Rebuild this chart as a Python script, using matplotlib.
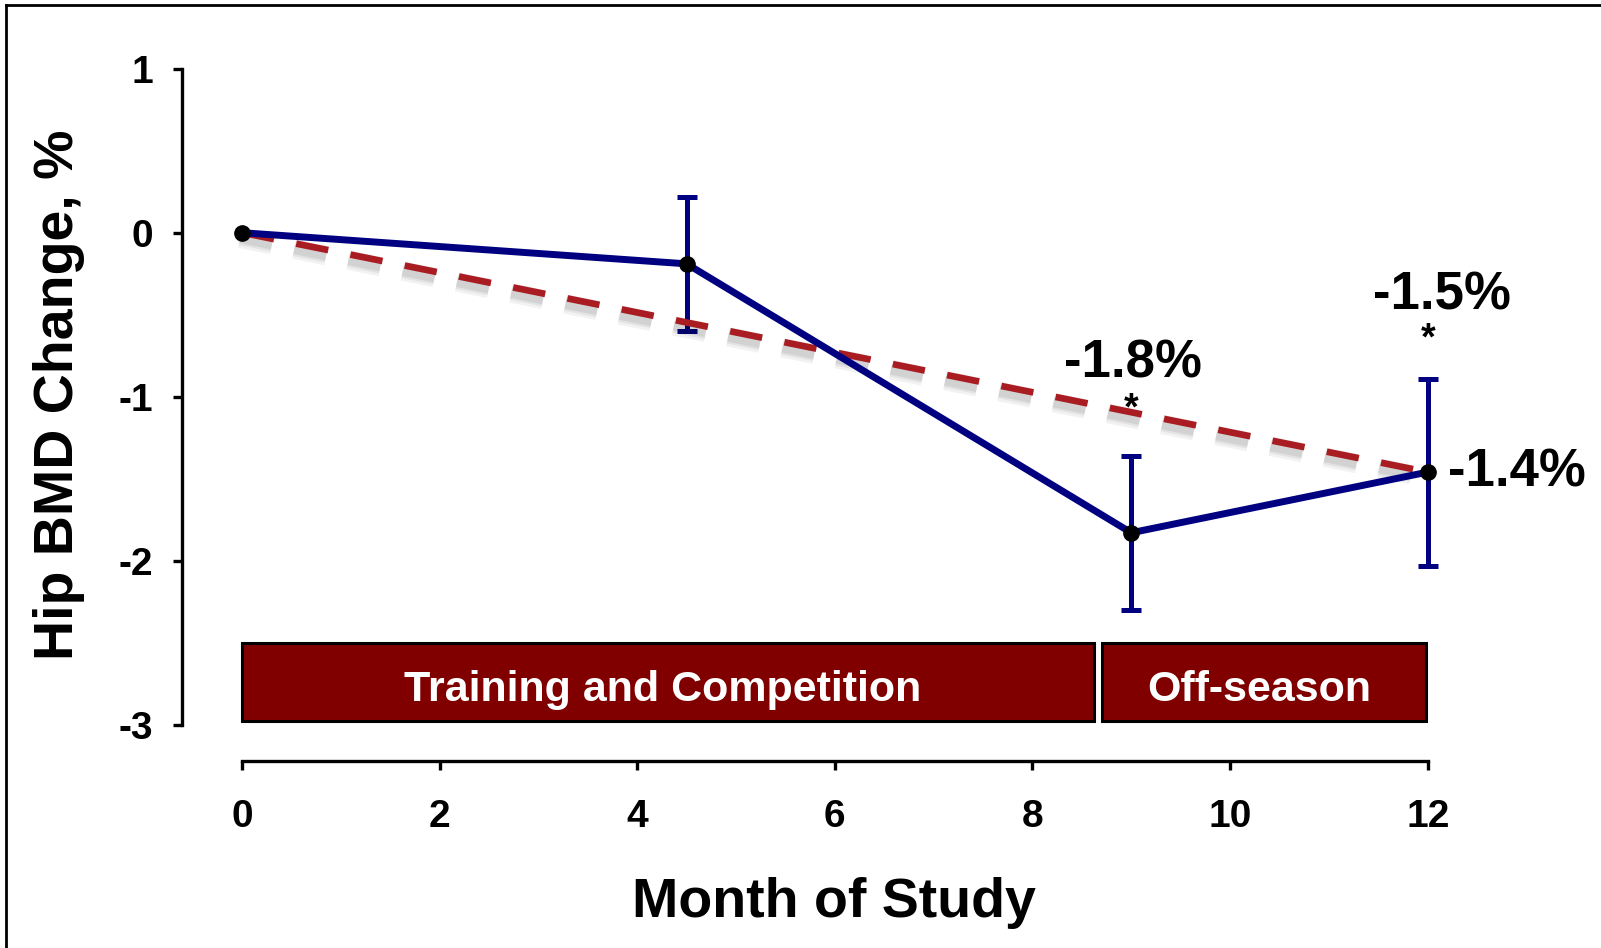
import matplotlib
matplotlib.use("Agg")
import matplotlib.pyplot as plt
import matplotlib.patheffects as pe
from matplotlib.lines import Line2D
from matplotlib.patches import Rectangle

plt.rcParams["font.family"] = ["Liberation Sans", "DejaVu Sans"]
plt.rcParams["font.weight"] = "bold"

# hip BMD change over the study year
months = [0, 4.5, 9, 12]
bmd_change = [0.0, -0.19, -1.83, -1.46]
bmd_err = [0.0, 0.41, 0.47, 0.57]

# straight reference line from baseline to month 12
trend_months = [0, 12]
trend_change = [0.0, -1.46]

# season periods: (label, start month, end month)
periods = [("Training and Competition", 0.0, 8.62),
           ("Off-season", 8.70, 11.98)]

xticks = [0, 2, 4, 6, 8, 10, 12]
yticks = [1, 0, -1, -2, -3]

navy = "#000080"
red = "#A81C22"
maroon = "#800000"

fig = plt.figure(figsize=(16.01, 9.48), dpi=100)
ax = fig.add_axes([0.1135, 0.1976, 0.8400, 0.7645])
ax.set_xlim(-0.61, 13.0)
ax.set_ylim(-3.22, 1.2)

# error bars sit underneath everything else
ax.errorbar(months[1:], bmd_change[1:], yerr=bmd_err[1:], fmt="none",
            ecolor=navy, elinewidth=3.6, capsize=7, capthick=3.6, zorder=2)

# dashed trend with a soft drop shadow
shadow = [pe.SimpleLineShadow(offset=(-1.5, -4), shadow_color="k", alpha=a, linewidth=w)
          for w, a in ((14, 0.05), (10, 0.06), (7, 0.07))]
ax.plot(trend_months, trend_change, color=red, lw=4.8, dashes=(4.9, 3.4),
        dash_capstyle="butt", path_effects=shadow + [pe.Normal()], zorder=3)

ax.plot(months, bmd_change, color=navy, lw=5, zorder=4)
ax.plot(months, bmd_change, "o", color="black", ms=11, zorder=5)

# period boxes
for label, x0, x1 in periods:
    ax.add_patch(Rectangle((x0, -2.975), x1 - x0, 0.475, facecolor=maroon,
                           edgecolor="black", lw=2.2, zorder=2))
    ax.text((x0 + x1) / 2 - 0.05, -2.79, label, color="white", fontsize=31,
            fontweight="bold", ha="center", va="center", zorder=3)

# value labels and significance stars
ax.text(9.02, -0.80, "-1.8%", fontsize=38, ha="center", va="center")
ax.text(9.0, -1.08, "*", fontsize=27, ha="center", va="center")
ax.text(12.14, -0.38, "-1.5%", fontsize=38, ha="center", va="center", clip_on=False)
ax.text(12.0, -0.65, "*", fontsize=27, ha="center", va="center")
ax.text(12.2, -1.46, "-1.4%", fontsize=38, ha="left", va="center", clip_on=False)

# detached axes
for side in ("top", "right"):
    ax.spines[side].set_visible(False)
ax.spines["left"].set_bounds(-3, 1)
ax.spines["bottom"].set_bounds(0, 12)
for side in ("left", "bottom"):
    ax.spines[side].set_linewidth(2.4)
ax.set_xticks(xticks)
ax.set_yticks(yticks)
ax.set_yticklabels([str(t) for t in yticks])
ax.tick_params(axis="both", length=6.5, width=2.4, labelsize=28)
ax.tick_params(axis="y", pad=14)
ax.tick_params(axis="x", pad=21)

fig.text(834 / 1601, 31 / 948, "Month of Study", fontsize=40, fontweight="bold",
         ha="center", va="baseline")
fig.text(73.5 / 1601, 553 / 948, "Hip BMD Change, %", fontsize=40, fontweight="bold",
         rotation=90, rotation_mode="anchor", ha="center", va="baseline")

# frame along the top and left edges
fig.add_artist(Line2D([6 / 1601, 1], [1 - 5 / 948, 1 - 5 / 948], color="black", lw=2))
fig.add_artist(Line2D([6 / 1601, 6 / 1601], [0, 1 - 5 / 948], color="black", lw=2))

fig.savefig("out.png", dpi=100)
